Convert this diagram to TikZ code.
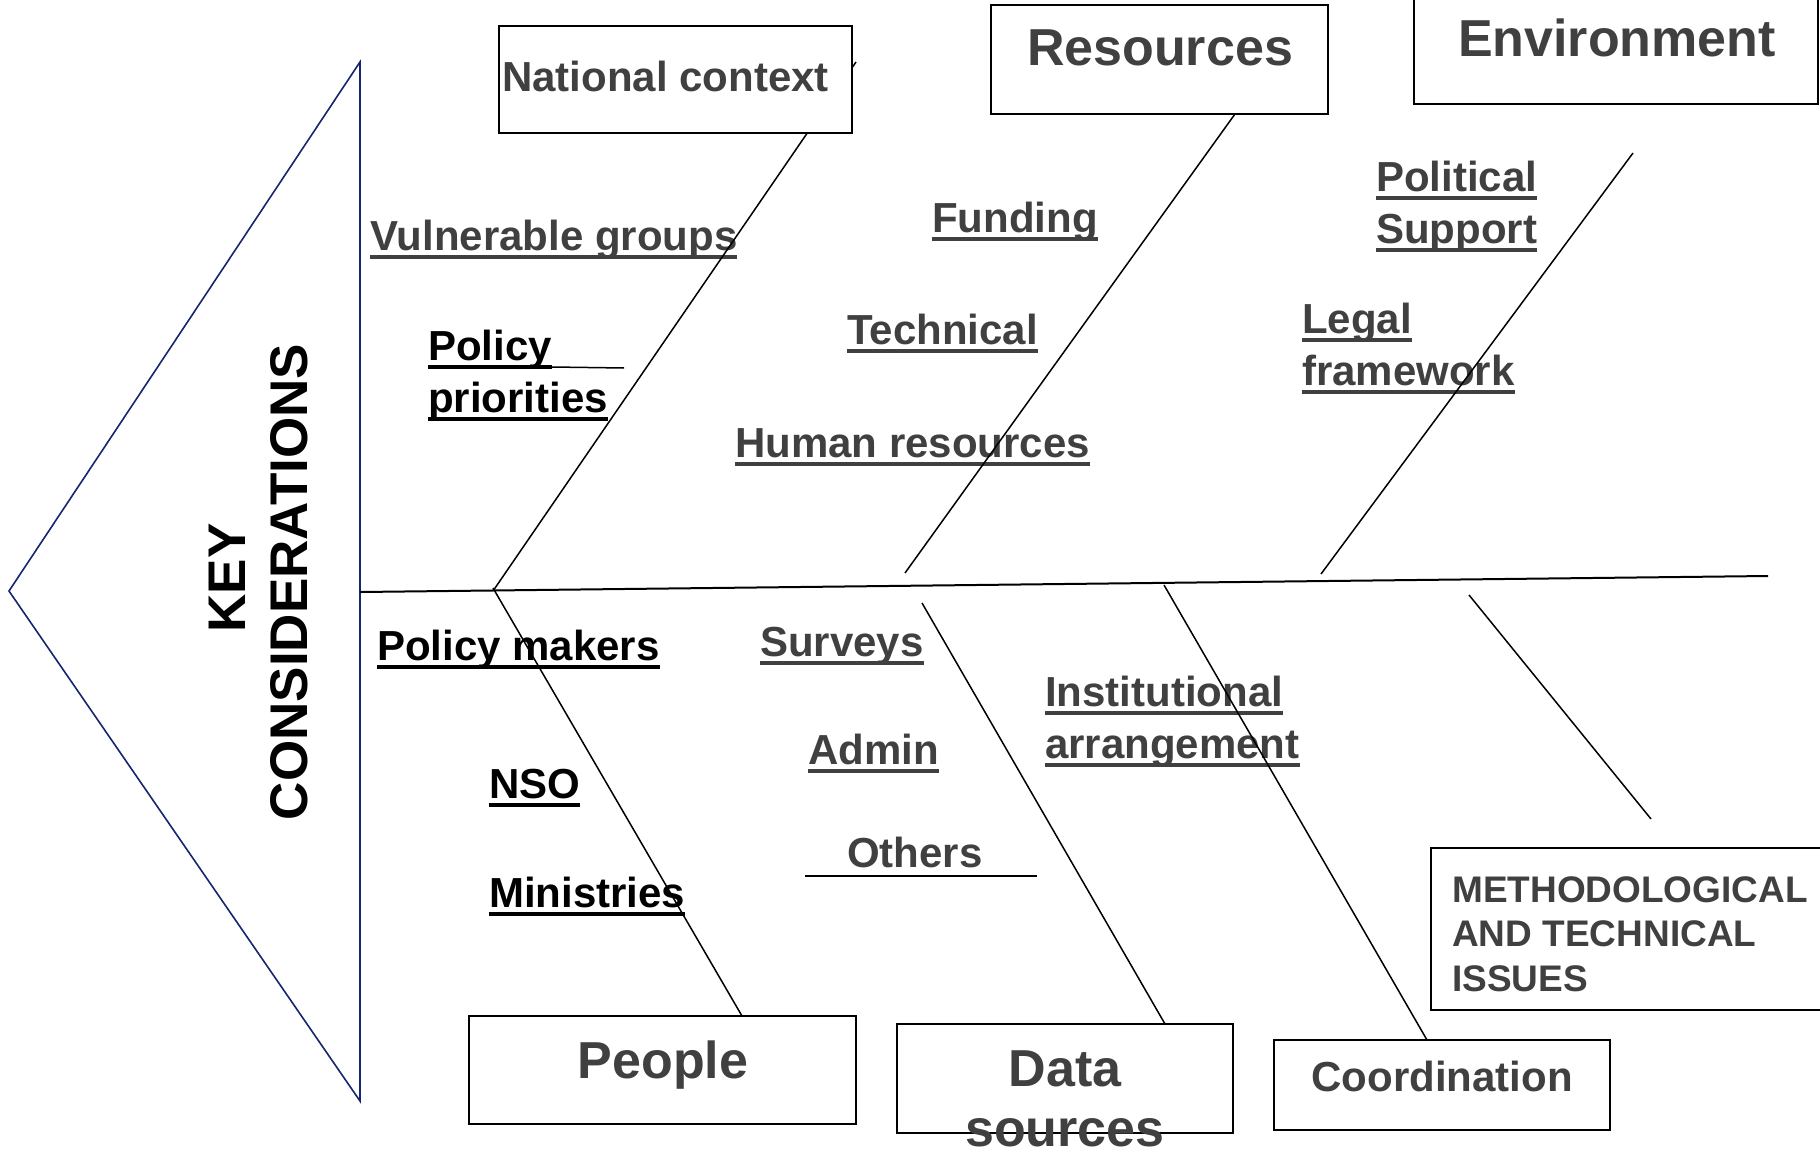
\documentclass[tikz,border=0pt]{standalone}
\usepackage{fontspec}
\setmainfont{Liberation Sans}
\usepackage{xcolor}
\usepackage{tikz}
\usetikzlibrary{positioning}
\usetikzlibrary{calc}

\definecolor{labelgray}{RGB}{64,64,64}
\definecolor{headblue}{RGB}{22,38,110}

% underlined word, rule a bit below the baseline
\newcommand{\undl}[1]{\setbox0=\hbox{#1}\rlap{\vrule width \wd0 height -5pt depth 9pt}\box0}

\tikzstyle{catbox}=[rectangle,draw=black,fill=white,line width=2.2pt,inner sep=0pt]
\tikzstyle{bone}=[draw,line width=1.5pt]
\tikzstyle{spineline}=[draw,line width=2pt]
\tikzstyle{headline}=[draw=headblue,line width=1.6pt]
\tikzstyle{thinline}=[draw,line width=1.5pt]
\tikzset{cause/.style={anchor=base west,inner sep=0pt,align=left,font=\bfseries\fontsize{42}{52}\selectfont}}
\tikzset{cattext/.style={anchor=base,inner sep=0pt,align=center,text=labelgray,font=\bfseries\fontsize{52}{60}\selectfont}}
\tikzset{keytext/.style={anchor=base,inner sep=0pt,rotate=90,font=\bfseries\fontsize{53}{60}\selectfont}}

\begin{document}
\begin{tikzpicture}[x=1pt,y=-1pt]

  \useasboundingbox (0,0) rectangle (1820,1153);

  % head and spine
  \foreach \x/\y/\name in {360/62/htop, 9/591/htip, 360/1101/hbot, 360/592/sstart, 1768/576/send}
          \coordinate (\name) at (\x,\y);
  \draw[headline] (htop) -- (htip) -- (hbot) -- cycle;
  \draw[spineline] (sstart) -- (send);

  \node[keytext] (keyw) at (245,578) {KEY};
  \node[keytext] (consw) at (307,582) {CONSIDERATIONS};

  % causes (y = baseline of the last line)
  \foreach \x/\y/\name/\label in {370/250/vul/{\undl{Vulnerable groups}}, 932/232/fund/{\undl{Funding}},
           847/344/tech/{\undl{Technical}}, 735/457/hum/{\undl{Human resources}},
           1376/243/pol/{\undl{Political}\\\undl{Support}}, 1302/385/leg/{\undl{Legal}\\\undl{framework}},
           760/656/surv/{\undl{Surveys}}, 808/764/adm/{\undl{Admin}}, 847/867/oth/{Others},
           1045/758/inst/{\undl{Institutional}\\\undl{arrangement}}}
          \node[cause,text=labelgray] (\name) at (\x,\y) {\label};

  \foreach \x/\y/\name/\label in {428/412/polprio/{\undl{Policy}\\\undl{priorities}}, 377/660/pmak/{\undl{Policy makers}},
           489/798/nso/{\undl{NSO}}, 489/907/mini/{\undl{Ministries}}}
          \node[cause,text=black] (\name) at (\x,\y) {\label};

  \foreach \x/\y/\name in {552/367/polxa, 624/368/polxb, 805/876/otha, 1037/876/othb}
          \coordinate (\name) at (\x,\y);
  \draw[thinline] (polxa) -- (polxb);
  \draw[thinline] (otha) -- (othb);

  % bones
  \foreach \x/\y/\name in {856/62/natup, 493/591/natdn, 1235/114/resup, 905/573/resdn,
           1633/153/envup, 1321/574/envdn, 493/588/pplup, 742/1016/ppldn,
           922/603/datup, 1165/1024/datdn, 1164/585/crdup, 1427/1040/crddn,
           1469/595/metup, 1651/819/metdn}
          \coordinate (\name) at (\x,\y);

  \foreach \source/\dest in {natup/natdn, resup/resdn, envup/envdn, pplup/ppldn,
           datup/datdn, crdup/crddn, metup/metdn}
          \path[bone] (\source) -- (\dest);

  % category boxes
  \foreach \x/\y/\w/\h/\name in {675.5/79.5/353pt/107pt/natbox, 1159.5/59.5/337pt/109pt/resbox,
           1616/50/404pt/108pt/envbox, 662.5/1070/387pt/108pt/pplbox,
           1065/1078.5/336pt/109pt/datbox, 1442/1085/336pt/90pt/crdbox,
           1635.5/929/409pt/162pt/metbox}
          \node[catbox,minimum width=\w,minimum height=\h] (\name) at (\x,\y) {};

  \node[cattext,anchor=base west,font=\bfseries\fontsize{42}{50}\selectfont] (nattxt) at (502,92) {National context};
  \node[cattext] (restxt) at (1160,66) {Resources};
  \node[cattext] (envtxt) at (1617,57) {Environment};
  \node[cattext] (ppltxt) at (663,1078) {People};
  \node[cattext] (dattxt) at (1065,1146) {Data\\sources};
  \node[cattext,font=\bfseries\fontsize{42}{50}\selectfont] (crdtxt) at (1442,1091) {Coordination};
  \node[cattext,anchor=base west,align=left,font=\bfseries\fontsize{37}{44.5}\selectfont] (mettxt) at (1452,991)
          {METHODOLOGICAL\\AND TECHNICAL\\ISSUES};

\end{tikzpicture}
\end{document}
